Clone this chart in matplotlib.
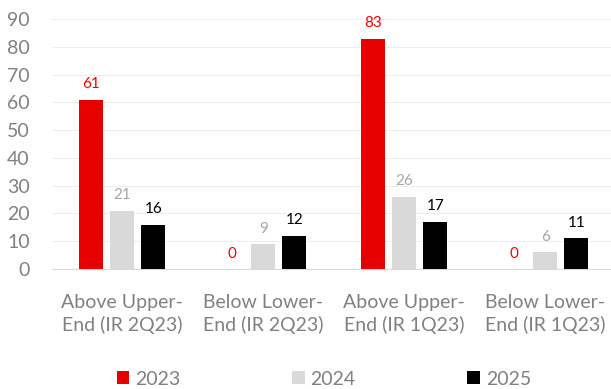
import matplotlib
matplotlib.use("Agg")
import matplotlib.pyplot as plt
import numpy as np

plt.rcParams['font.family'] = ['Lato', 'DejaVu Sans']

categories = ["Above Upper-\nEnd (IR 2Q23)", "Below Lower-\nEnd (IR 2Q23)",
              "Above Upper-\nEnd (IR 1Q23)", "Below Lower-\nEnd (IR 1Q23)"]
series_names = ["2023", "2024", "2025"]
v2023 = [61, 0, 83, 0]
v2024 = [21, 9, 26, 6]
v2025 = [16, 12, 17, 11]
yticks = [0, 10, 20, 30, 40, 50, 60, 70, 80, 90]

colors = ["#E60000", "#D9D9D9", "#000000"]
label_colors = ["#FF0000", "#A6A6A6", "#000000"]

fig = plt.figure(figsize=(6.11, 3.89), dpi=100)
ax = fig.add_axes([0.085, 0.3085, 0.923, 0.6425])

x = np.arange(len(categories))
w = 0.17
step = 0.22
for i, (vals, c, lc, name) in enumerate(zip([v2023, v2024, v2025], colors, label_colors, series_names)):
    pos = x + (i - 1) * step
    bars = ax.bar(pos, vals, width=w, color=c, label=name, zorder=3)
    for p, v in zip(pos, vals):
        ax.text(p, v + 3, str(v), ha='center', va='bottom', color=lc, fontsize=11)

ax.set_xlim(-0.5, 3.5)
ax.set_ylim(0, 90)
ax.set_yticks(yticks)
ax.set_xticks(x)
ax.set_xticklabels(categories)
ax.grid(axis='y', color='#EDEDED', linewidth=0.8, zorder=0)
for s in ['top', 'right', 'left']:
    ax.spines[s].set_visible(False)
ax.spines['bottom'].set_color('#D9D9D9')
ax.tick_params(axis='both', length=0, colors='#808080', labelsize=14)
ax.tick_params(axis='y', pad=16)
ax.tick_params(axis='x', pad=18, labelsize=14)
for t in ax.get_xticklabels():
    t.set_linespacing(1.3)

handles, labels = ax.get_legend_handles_labels()
leg = fig.legend(handles, labels, loc='center', bbox_to_anchor=(0.53, 0.025), ncol=3,
                 frameon=False, handlelength=0.65, handleheight=0.65, handletextpad=0.3,
                 columnspacing=5.75, fontsize=14)
for t in leg.get_texts():
    t.set_color('#808080')

fig.savefig("out.png", dpi=100)
